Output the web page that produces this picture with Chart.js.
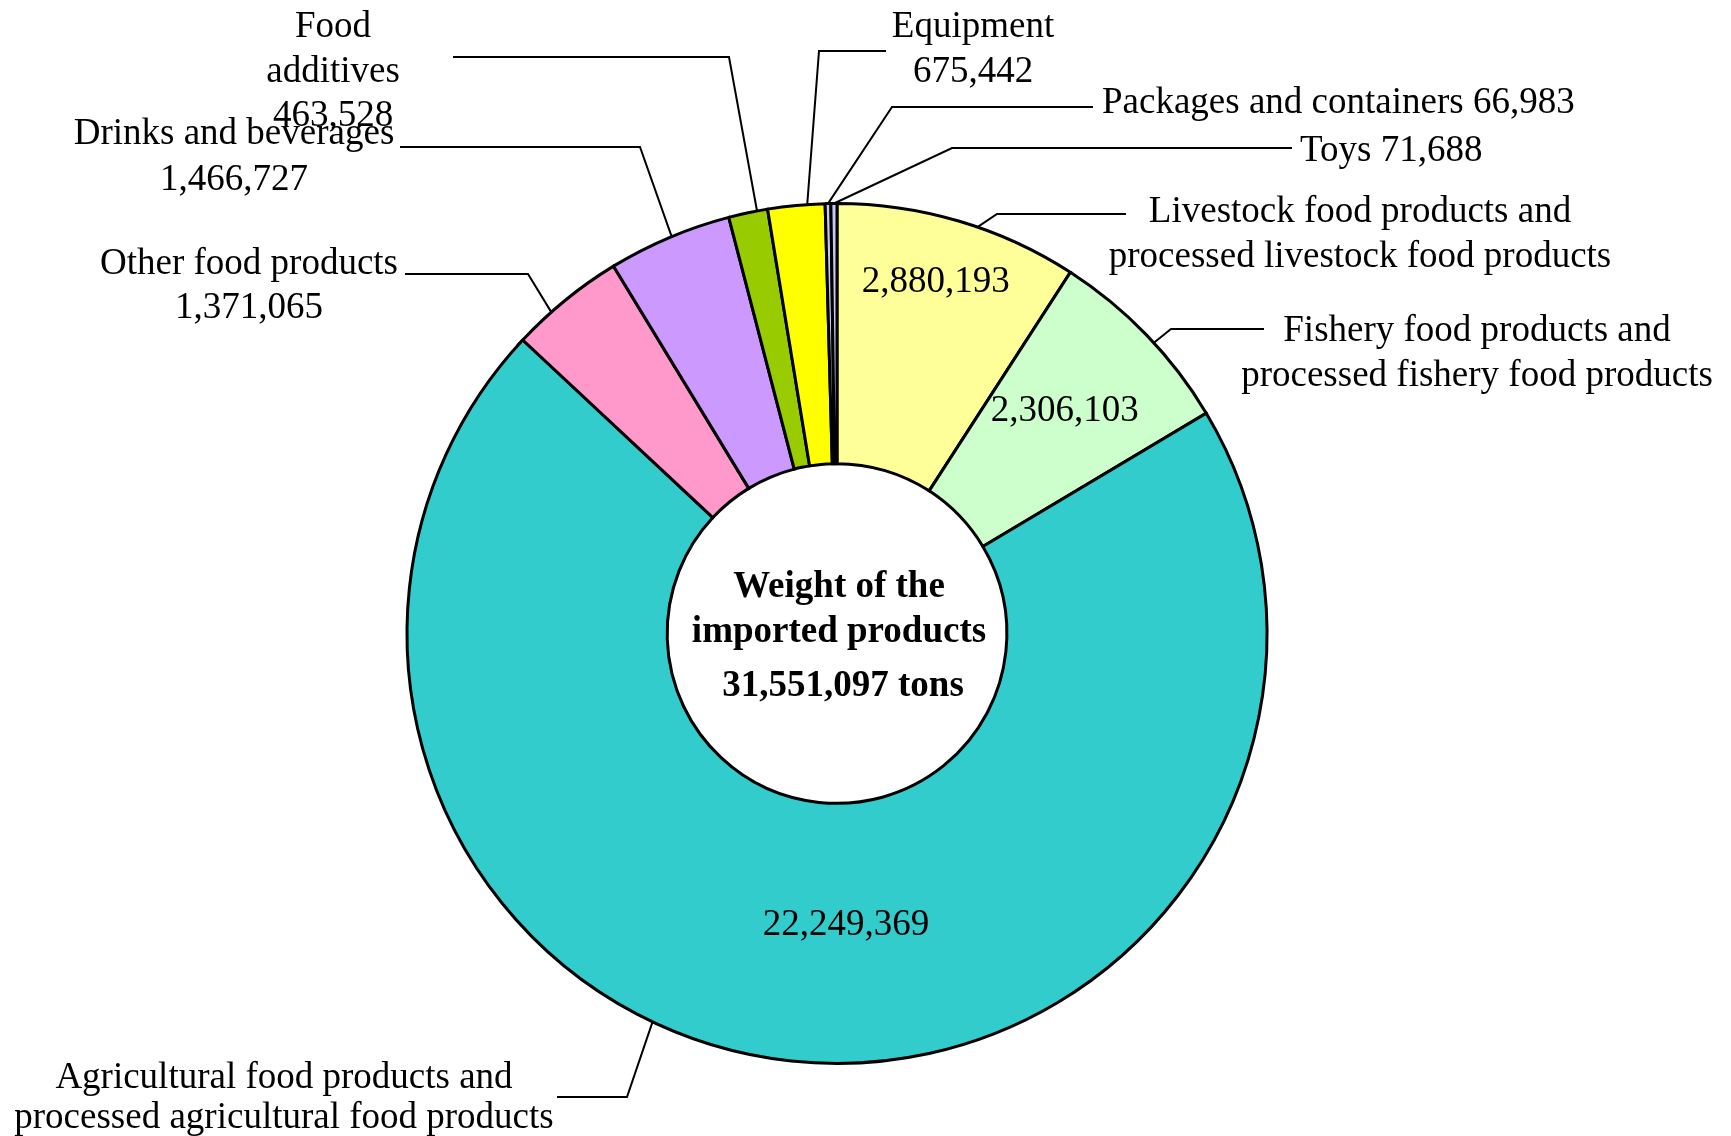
<!DOCTYPE html>
<html>
<head>
<meta charset="utf-8">
<script src="https://cdn.jsdelivr.net/npm/chart.js@4.4.1/dist/chart.umd.min.js"></script>
<style>
html,body{margin:0;padding:0;background:#ffffff;}
canvas{display:block;}
</style>
</head>
<body>
<canvas id="c" width="1731" height="1136"></canvas>
<script>
// ---- data ----
const categories = [
  "Livestock food products and processed livestock food products",
  "Fishery food products and processed fishery food products",
  "Agricultural food products and processed agricultural food products",
  "Other food products",
  "Drinks and beverages",
  "Food additives",
  "Equipment",
  "Packages and containers",
  "Toys"
];
const labelLines = [
  ["Livestock food products and", "processed livestock food products"],
  ["Fishery food products and", "processed fishery food products"],
  ["Agricultural food products and", "processed agricultural food products"],
  ["Other food products"],
  ["Drinks and beverages"],
  ["Food", "additives"],
  ["Equipment"],
  ["Packages and containers"],
  ["Toys"]
];
const weights = [2880193, 2306103, 22249369, 1371065, 1466727, 463528, 675442, 66983, 71688];
const totalTons = 31551097;
const centerLines = ["Weight of the", "imported products"];

// ---- styles ----
const palette = ["#FFFF99", "#CCFFCC", "#33CCCC", "#FF99CC", "#CC99FF", "#99CC00", "#FFFF00", "#C8C8F4", "#C8C8F4"];
const FONT = '"Liberation Serif", "Times New Roman", serif';
const fmt = v => v.toLocaleString('en-US');

// label layout (canvas pixels) - value placement: 'inside', 'below', 'inline'
const layout = [
  {frac: 0.58, elbow: [997, 214], end: [1126, 214], tx: 1360, ty: [222, 267], align: 'center', mode: 'inside', inFrac: 0.474, inR: 0.855},
  {frac: 0.555, elbow: [1171, 329], end: [1264, 329], tx: 1477, ty: [341, 386], align: 'center', mode: 'inside', inFrac: 0.475, inR: 0.744},
  {frac: 0.576, elbow: [627, 1097], end: [557, 1097], tx: 284, ty: [1088, 1128], align: 'center', mode: 'inside', inFrac: 0.469, inR: 0.672},
  {frac: 0.34, elbow: [528, 274], end: [405, 274], tx: 249, ty: [274, 318], align: 'center', mode: 'below'},
  {frac: 0.52, elbow: [640, 147], end: [400, 147], tx: 234, ty: [144, 190], align: 'center', mode: 'below'},
  {frac: 0.73, elbow: [729, 57], end: [453, 57], tx: 333, ty: [37, 82, 126], align: 'center', mode: 'below'},
  {frac: 0.69, elbow: [819, 51], end: [886, 51], tx: 973, ty: [37, 82], align: 'center', mode: 'below'},
  {frac: 0.5, elbow: [892, 107], end: [1093, 107], tx: 1102, ty: [113], align: 'left', mode: 'inline'},
  {frac: 0.5, elbow: [952, 148], end: [1292, 148], tx: 1300, ty: [161], align: 'left', mode: 'inline'}
];

const labelPlugin = {
  id: 'leaderLabels',
  afterDatasetsDraw(chart) {
    const ctx = chart.ctx;
    const meta = chart.getDatasetMeta(0);
    ctx.save();
    ctx.fillStyle = '#000';
    ctx.strokeStyle = '#000';
    ctx.lineWidth = 2;
    ctx.font = '37px ' + FONT;
    meta.data.forEach((arc, i) => {
      const p = arc.getProps(['x', 'y', 'startAngle', 'endAngle', 'outerRadius', 'innerRadius'], true);
      const L = layout[i];
      const a = p.startAngle + L.frac * (p.endAngle - p.startAngle);
      const ex = p.x + Math.cos(a) * p.outerRadius;
      const ey = p.y + Math.sin(a) * p.outerRadius;
      ctx.beginPath();
      ctx.moveTo(ex, ey);
      ctx.lineTo(L.elbow[0], L.elbow[1]);
      ctx.lineTo(L.end[0], L.end[1]);
      ctx.stroke();

      let lines = labelLines[i].slice();
      const val = fmt(weights[i]);
      if (L.mode === 'below') lines.push(val);
      if (L.mode === 'inline') lines[lines.length - 1] += ' ' + val;
      ctx.textAlign = L.align;
      ctx.textBaseline = 'alphabetic';
      lines.forEach((t, k) => ctx.fillText(t, L.tx, L.ty[k]));

      if (L.mode === 'inside') {
        const ia = p.startAngle + L.inFrac * (p.endAngle - p.startAngle);
        const r = L.inR * p.outerRadius;
        ctx.textAlign = 'center';
        ctx.textBaseline = 'middle';
        ctx.fillText(val, p.x + Math.cos(ia) * r, p.y + Math.sin(ia) * r + 3);
      }
    });
    // centre text
    const c = meta.data[0];
    ctx.font = 'bold 37px ' + FONT;
    ctx.textAlign = 'center';
    ctx.textBaseline = 'middle';
    ctx.fillText(centerLines[0], c.x + 2, c.y - 46);
    ctx.fillText(centerLines[1], c.x + 2, c.y - 1);
    ctx.fillText(fmt(totalTons) + ' tons', c.x + 6, c.y + 53);
    ctx.restore();
  }
};

new Chart(document.getElementById('c'), {
  type: 'doughnut',
  data: {
    labels: categories,
    datasets: [{
      data: weights,
      backgroundColor: palette,
      borderColor: '#000000',
      borderWidth: 3,
      hoverOffset: 0,
      borderJoinStyle: 'miter'
    }]
  },
  options: {
    responsive: false,
    animation: false,
    events: [],
    cutout: '39.5%',
    rotation: 0,
    layout: {padding: {top: 202, bottom: 71, left: 300, right: 357}},
    plugins: {legend: {display: false}, tooltip: {enabled: false}}
  },
  plugins: [labelPlugin]
});
</script>
</body>
</html>
